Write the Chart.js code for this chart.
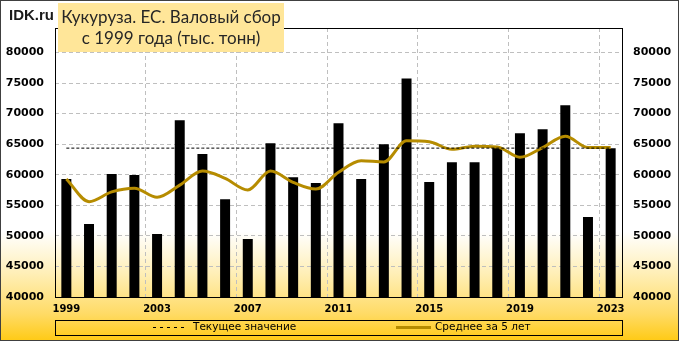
<!DOCTYPE html>
<html>
<head>
<meta charset="utf-8">
<script src="https://cdn.jsdelivr.net/npm/chart.js@4"></script>
<style>
  html, body { margin: 0; padding: 0; background: #fff; }
  #wrap { width: 679px; height: 341px; position: relative; }
</style>
</head>
<body>
<div id="wrap"><canvas id="chart"></canvas></div>
<script>
const years = [1999, 2000, 2001, 2002, 2003, 2004, 2005, 2006, 2007, 2008, 2009, 2010, 2011,
  2012, 2013, 2014, 2015, 2016, 2017, 2018, 2019, 2020, 2021, 2022, 2023];

// валовый сбор, тыс. тонн
const harvest = [59300, 51950, 60100, 59950, 50300, 68900, 63400, 56000, 49500, 65150, 59600, 58650, 68400,
  59300, 65000, 75750, 58800, 62050, 62050, 64400, 66800, 67450, 71350, 53100, 64350];

// среднее за 5 лет
const avg5 = [59300, 55600, 57200, 57800, 56300, 58300, 60600, 59400, 57500, 60600, 58750, 57650, 60400,
  62300, 62100, 65550, 65400, 64150, 64650, 64550, 62850, 64450, 66300, 64450, 64450];

// текущее значение (последний год)
const current = years.map(() => harvest[harvest.length - 1]);

const yTicks = [40000, 45000, 50000, 55000, 60000, 65000, 70000, 75000, 80000];

const titleLines = ["Кукуруза. ЕС. Валовый сбор", "с 1999 года (тыс. тонн)"];
const legendLabels = ["Текущее значение", "Среднее за 5 лет"];

const gold = "#B68C00";
const gridGray = "#BFBFBF";

// background, title, frame, legend
const decor = {
  id: "decor",
  beforeDraw(chart) {
    const ctx = chart.ctx;
    const w = chart.width, h = chart.height;
    ctx.save();
    const g = ctx.createLinearGradient(0, 0, 0, h);
    g.addColorStop(0, "#ffffff");
    g.addColorStop(0.68, "#ffffff");
    g.addColorStop(0.8, "#FFEFB8");
    g.addColorStop(0.92, "#FFDB66");
    g.addColorStop(1, "#FFCA14");
    ctx.fillStyle = g;
    ctx.fillRect(0, 0, w, h);
    ctx.restore();
  },
  afterDraw(chart) {
    const ctx = chart.ctx;
    const a = chart.chartArea;
    ctx.save();
    // plot frame
    ctx.strokeStyle = "#000";
    ctx.lineWidth = 1;
    ctx.strokeRect(Math.round(a.left) + 0.5, Math.round(a.top) + 0.5,
      Math.round(a.right - a.left), Math.round(a.bottom - a.top));

    // title box
    ctx.fillStyle = "#FFE699";
    ctx.fillRect(58, 3, 226, 49);
    ctx.fillStyle = "#262626";
    ctx.font = "17px Lato";
    ctx.textAlign = "center";
    ctx.textBaseline = "middle";
    ctx.fillText(titleLines[0], 171, 18);
    ctx.fillText(titleLines[1], 171, 39);

    // site label
    ctx.font = "bold 15px 'Liberation Sans'";
    ctx.textAlign = "left";
    ctx.fillStyle = "#1a1a1a";
    ctx.fillText("IDK.ru", 9, 16);

    // legend
    const ly = 327.5;
    ctx.strokeStyle = "#000";
    ctx.strokeRect(Math.round(a.left) + 0.5, 320.5, Math.round(a.right - a.left), 15);
    ctx.setLineDash([3, 4]);
    ctx.beginPath();
    ctx.moveTo(153, ly);
    ctx.lineTo(187, ly);
    ctx.stroke();
    ctx.setLineDash([]);
    ctx.strokeStyle = gold;
    ctx.lineWidth = 3;
    ctx.beginPath();
    ctx.moveTo(396, ly);
    ctx.lineTo(431, ly);
    ctx.stroke();
    ctx.fillStyle = "#000";
    ctx.font = "10.5px 'DejaVu Sans'";
    ctx.fillText(legendLabels[0], 193, ly);
    ctx.fillText(legendLabels[1], 435, ly);

    // outer border
    ctx.strokeStyle = "#404040";
    ctx.lineWidth = 1;
    ctx.strokeRect(0.5, 0.5, chart.width - 1, chart.height - 1);
    ctx.restore();
  }
};

const setTicks = (scale) => {
  scale.ticks = yTicks.map(v => ({ value: v }));
};

const yTickOpts = {
  padding: 11,
  color: "#000",
  font: { family: "DejaVu Sans", size: 11, weight: "bold" },
  callback: (v) => String(v),
};

new Chart(document.getElementById("chart"), {
  type: "bar",
  data: {
    labels: years,
    datasets: [
      {
        type: "line",
        label: legendLabels[0],
        data: current,
        borderColor: "#000",
        borderWidth: 1,
        borderDash: [3, 2],
        pointRadius: 0,
        tension: 0,
        order: 1,
      },
      {
        type: "line",
        label: legendLabels[1],
        data: avg5,
        borderColor: gold,
        borderWidth: 3,
        pointRadius: 0,
        cubicInterpolationMode: "monotone",
        order: 2,
      },
      {
        label: "Валовый сбор",
        data: harvest,
        backgroundColor: "#000",
        barPercentage: 0.44,
        categoryPercentage: 1,
        order: 3,
      },
    ],
  },
  options: {
    responsive: true,
    maintainAspectRatio: false,
    animation: false,
    layout: { padding: { left: 0, right: 0, top: 28, bottom: 24 } },
    plugins: {
      legend: { display: false },
      tooltip: { enabled: false },
    },
    scales: {
      x: {
        offset: true,
        grid: {
          offset: true,
          drawTicks: false,
          color: (c) => (c.index > 0 && c.index % 4 === 0 ? gridGray : "transparent"),
        },
        border: { display: false, dash: [4, 3] },
        ticks: {
          autoSkip: false,
          maxRotation: 0,
          padding: 6,
          color: "#000",
          font: { family: "DejaVu Sans", size: 10, weight: "bold" },
          callback: function (v, i) { return i % 4 === 0 ? this.getLabelForValue(v) : ""; },
        },
        afterFit: (s) => { s.height = 20; },
      },
      y: {
        position: "left",
        min: 40000,
        max: 84000,
        afterBuildTicks: setTicks,
        grid: { drawTicks: false, color: gridGray },
        border: { display: false, dash: [4, 3] },
        ticks: yTickOpts,
        afterFit: (s) => { s.width = 55; },
      },
      y2: {
        position: "right",
        min: 40000,
        max: 84000,
        afterBuildTicks: setTicks,
        grid: { display: false, drawTicks: false },
        border: { display: false },
        ticks: yTickOpts,
        afterFit: (s) => { s.width = 57; },
      },
    },
  },
  plugins: [decor],
});
</script>
</body>
</html>
